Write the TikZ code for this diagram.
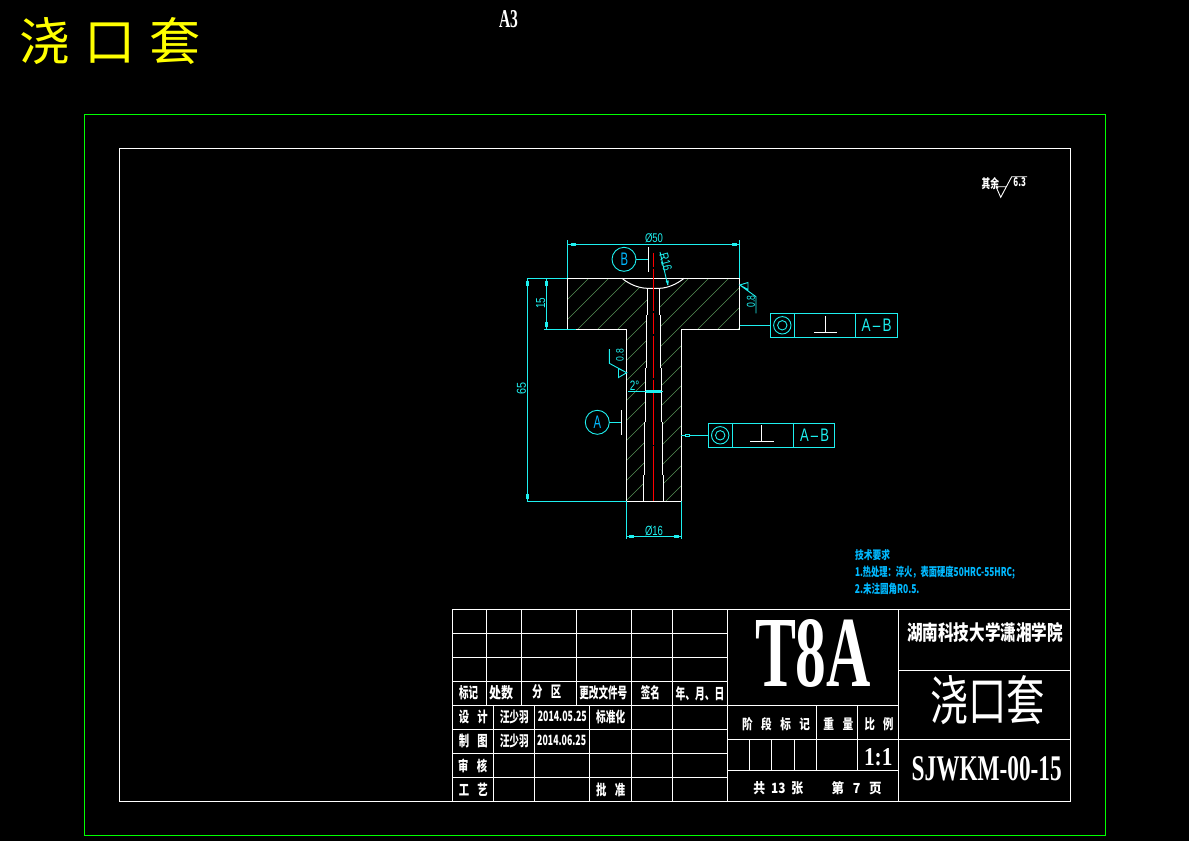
\documentclass[tikz,border=0pt]{standalone}
\usepackage{fontspec}
\setmainfont{Liberation Serif}
\setsansfont{Liberation Sans}
\newfontfamily\cjk{Noto Sans CJK SC}
\definecolor{cadcyan}{RGB}{30,240,240}
\definecolor{cadblue}{RGB}{0,185,255}
\definecolor{cadgreen}{RGB}{85,145,85}
\definecolor{cadred}{RGB}{255,0,0}
\definecolor{cadframe}{RGB}{0,255,0}
\definecolor{cadyellow}{RGB}{255,255,0}
% name, x, y, width, height, rotation, colour, content
\newcommand\tx[8]{\node[inner sep=0pt,outer sep=0pt,rotate=#6,text=#7] (#1) at (#2,#3) {\resizebox{#4pt}{#5pt}{#8}};}
\newcommand\cb[6]{\tx{#1}{#2}{#3}{#4}{#5}{0}{white}{\cjk\bfseries #6}}
\newcommand\dt[7]{\tx{#1}{#2}{#3}{#4}{#5}{#6}{cadcyan}{\sffamily #7}}
\newcommand\tk[2]{\fill[cadcyan] (#1-2.5,#2-1.5) rectangle (#1+2.5,#2+1.5);}
\newcommand\tkv[2]{\fill[cadcyan] (#1-1.5,#2-2.5) rectangle (#1+1.5,#2+2.5);}
\tikzset{
  outline/.style={draw=white,line width=1pt},
  dimline/.style={draw=cadcyan,line width=0.9pt},
  tblline/.style={draw=white,line width=0.9pt},
  hatchline/.style={draw=cadgreen,line width=0.6pt},
  centreline/.style={draw=cadred,line width=1pt},
}
\begin{document}
\begin{tikzpicture}[x=1pt,y=-1pt]
\useasboundingbox (0,0) rectangle (1189,841);
\fill[black] (0,0) rectangle (1189,841);
% frames
\draw[draw=cadframe,line width=1pt] (84.5,114.5) rectangle (1105.5,835.5);
\draw[draw=white,line width=0.9pt] (119.5,148.5) rectangle (1070.5,801.5);
% title text
\tx{title}{110}{41.5}{182}{43}{0}{cadyellow}{\cjk\fontsize{50}{50}\selectfont 浇\hspace{14pt}口\hspace{14pt}套}
\tx{sheet}{508.5}{19.5}{19}{17}{0}{white}{\bfseries A3}
% hatching, left half
\begin{scope}
\clip (567.3,278.3) -- (622,278.3) .. controls (629,284) and (638,288) .. (647,288.3) -- (647,315) -- (646,315) -- (646,368) -- (645.3,368) -- (645.3,422) -- (644.3,422) -- (644.3,475) -- (643.3,475) -- (643.3,501.3) -- (626.3,501.3) -- (626.3,329.3) -- (567.3,329.3) -- cycle;
\foreach \k in {0,...,18} {\draw[hatchline] ({827+20*\k-250},250) -- ({827+20*\k-600},600);}
\end{scope}
% hatching, right half
\begin{scope}
\clip (739.7,278.3) -- (684,278.3) .. controls (677,284) and (668,288) .. (659.7,288.3) -- (659.7,315) -- (660.7,315) -- (660.7,368) -- (661.7,368) -- (661.7,422) -- (662.7,422) -- (662.7,475) -- (663.7,475) -- (663.7,501.3) -- (681.3,501.3) -- (681.3,329.3) -- (739.7,329.3) -- cycle;
\foreach \k in {0,...,18} {\draw[hatchline] ({827+20*\k-250},250) -- ({827+20*\k-600},600);}
\end{scope}
% part outline
\draw[outline] (567.3,278.3) -- (739.7,278.3) -- (739.7,329.3) -- (681.3,329.3) -- (681.3,501.3) -- (626.3,501.3) -- (626.3,329.3) -- (567.3,329.3) -- cycle;
\draw[outline] (622,278.3) .. controls (629,284) and (638,288) .. (647,288.3) -- (659.7,288.3) .. controls (668,288) and (677,284) .. (684,278.3);
\draw[outline] (647,288.3) -- (647,315) (646,315) -- (646,368) (645.3,368) -- (645.3,422) (644.3,422) -- (644.3,475) (643.3,475) -- (643.3,501.3);
\draw[outline] (659.7,288.3) -- (659.7,315) (660.7,315) -- (660.7,368) (661.7,368) -- (661.7,422) (662.7,422) -- (662.7,475) (663.7,475) -- (663.7,501.3);
% centre line
\draw[centreline] (653.3,253) -- (653.3,267) (653.3,268.5) -- (653.3,311) (653.3,312.5) -- (653.3,334) (653.3,335.5) -- (653.3,378) (653.3,379.5) -- (653.3,444.5) (653.3,446) -- (653.3,501);
% dim phi50
\draw[dimline] (567.3,240) -- (567.3,278.3) (739.7,240) -- (739.7,278.3) (567.3,244.3) -- (739.7,244.3);
\tk{573}{244.3}\tk{734}{244.3}
\dt{dfifty}{654}{238.5}{18}{9}{0}{Ø50}
% dim 15
\draw[dimline] (526.7,278.3) -- (567.3,278.3) (544.3,329.3) -- (576,329.3) (546.3,278.3) -- (546.3,329.3);
\tkv{546.3}{283.7}\tkv{546.3}{324.3}
\dt{dfifteen}{540.7}{303}{11}{9}{90}{15}
% dim 65
\draw[dimline] (527,278.3) -- (527,501.3) (526.7,501.3) -- (626.3,501.3);
\tkv{527}{283.7}\tkv{527}{496}
\dt{dsixtyfive}{521.5}{388}{12}{9}{90}{65}
% dim phi16
\draw[dimline] (626.3,501.3) -- (626.3,538.5) (681.3,501.3) -- (681.3,538.5) (626.3,536.3) -- (681.3,536.3);
\tk{631.7}{536.3}\tk{676}{536.3}
\dt{dsixteen}{654}{530.5}{18}{9.5}{0}{Ø16}
% dim 2 deg
\draw[dimline] (628.3,391.7) -- (663,391.7);
\fill[cadcyan] (645.5,390) rectangle (660.5,393.4);
\dt{dangle}{634.5}{385.7}{9.5}{9.5}{0}{2°}
% R16
\draw[dimline] (660,252) -- (667.7,285);
\fill[cadcyan] (665.6,281) -- (668.6,280.3) -- (668.4,285.3) -- cycle;
\dt{dradius}{665.7}{261.7}{18}{9}{-75}{R16}
% datum B
\draw[draw=cadcyan,line width=0.9pt] (624,259.3) circle (12);
\draw[dimline] (636,259.3) -- (648.3,259.3);
\draw[outline] (648.3,247.3) -- (648.3,271.7);
\tx{datb}{624.3}{259.5}{7.5}{12.5}{0}{cadblue}{\sffamily B}
% datum A
\draw[draw=cadcyan,line width=0.9pt] (597.3,422.3) circle (12);
\draw[dimline] (609.3,422.3) -- (621.7,422.3);
\draw[outline] (621.7,410) -- (621.7,435);
\tx{data}{597.3}{422}{7.5}{12.5}{0}{cadblue}{\sffamily A}
% feature frame lower
\draw[dimline] (681.3,435.3) -- (708.3,435.3);
\draw[draw=cadcyan,line width=0.9pt,fill=black] (685.3,434) rectangle (689.3,436.7);
\draw[draw=cadcyan,line width=1pt] (708.3,423.3) rectangle (834.3,447.3) (732.3,423.3) -- (732.3,447.3) (793.3,423.3) -- (793.3,447.3);
\draw[draw=cadcyan,line width=0.9pt] (720.2,435.3) circle (8.7) (720.2,435.3) circle (4.7);
\draw[outline] (750,441.3) -- (774,441.3) (761.7,425) -- (761.7,441.3);
\dt{reflower}{814.5}{435.5}{29}{12.5}{0}{A\,–\,B}
% feature frame upper
\draw[dimline] (739.7,325.3) -- (770.3,325.3);
\draw[draw=cadcyan,line width=1pt] (770.3,313.3) rectangle (897.3,337.3) (794.3,313.3) -- (794.3,337.3) (855.3,313.3) -- (855.3,337.3);
\draw[draw=cadcyan,line width=0.9pt] (782.3,325.3) circle (8.7) (782.3,325.3) circle (4.7);
\draw[outline] (814,332.3) -- (837,332.3) (825.7,316) -- (825.7,332.3);
\dt{refupper}{876.7}{325.3}{30}{12.5}{0}{A\,–\,B}
% roughness marks
\draw[dimline] (748,282.5) -- (739.7,285) -- (748,289.5) -- cycle (739.7,285) -- (756,296.7) -- (756,313.3);
\dt{roughright}{751}{301.5}{12}{8}{90}{0.8}
\draw[dimline] (618.5,368.5) -- (626.7,372.7) -- (618.5,377.5) -- cycle (626.7,372.7) -- (609.3,363.3) -- (609.3,349);
\dt{roughleft}{620}{355}{12}{7.5}{90}{0.8}
% other surfaces roughness
\draw[draw=white,line width=0.9pt] (996,186.7) -- (1005.5,186.7) (996,186.7) -- (1000.7,197.3) -- (1011.7,176.7) -- (1027,176.7);
\cb{roughall}{990.3}{183.8}{17.5}{11}{其余}
\cb{roughval}{1019.7}{181.8}{12.5}{9}{6.3}
% technical notes
\tx{notea}{872.5}{555}{35}{10}{0}{cadblue}{\cjk\bfseries 技术要求}
\tx{noteb}{935}{572.3}{160}{10.5}{0}{cadblue}{\cjk\bfseries 1.热处理：淬火，表面硬度50HRC-55HRC;}
\tx{notec}{887.2}{589.3}{64.5}{10.5}{0}{cadblue}{\cjk\bfseries 2.未注圆角R0.5.}
% title block lines
\draw[tblline] (452.5,609.3) rectangle (1070.5,801.5);
\draw[tblline] (452.5,633.3) -- (727.3,633.3) (452.5,657.3) -- (727.3,657.3) (452.5,681.3) -- (727.3,681.3) (452.5,705.3) -- (898.3,705.3) (452.5,729.3) -- (727.3,729.3) (452.5,753.3) -- (727.3,753.3) (452.5,777.3) -- (727.3,777.3);
\draw[tblline] (486.7,609.3) -- (486.7,705.3) (521.3,609.3) -- (521.3,705.3) (576.3,609.3) -- (576.3,705.3);
\draw[tblline] (631.7,609.3) -- (631.7,801.5) (672.7,609.3) -- (672.7,801.5) (727.3,609.3) -- (727.3,801.5) (898.3,609.3) -- (898.3,801.5);
\draw[tblline] (493.7,705.3) -- (493.7,801.5) (534.3,705.3) -- (534.3,801.5) (589.7,705.3) -- (589.7,801.5);
\draw[tblline] (727.3,739.3) -- (898.3,739.3) (727.3,770) -- (898.3,770) (898.3,670.3) -- (1070.5,670.3) (898.3,739.3) -- (1070.5,739.3);
\draw[tblline] (816.3,705.3) -- (816.3,770) (857.3,705.3) -- (857.3,770) (749.3,739.3) -- (749.3,770) (771.7,739.3) -- (771.7,770) (794.3,739.3) -- (794.3,770);
% title block text
\cb{c1}{468.7}{692.3}{19}{13}{标记}
\cb{c2}{501}{692.3}{24}{13}{处数}
\cb{c3}{546.7}{691.7}{29}{13}{分\hspace{0.8em}区}
\cb{c4}{603.3}{692.3}{48}{13}{更改文件号}
\cb{c5}{650.3}{693}{19}{13}{签名}
\cb{c6}{700}{693.3}{49}{13}{年、月、日}
\cb{d1}{473.3}{716.7}{29}{12.5}{设\hspace{0.8em}计}
\cb{d2}{514.3}{717.3}{29}{12.5}{汪少羽}
\cb{d3}{562.3}{716}{49}{10.5}{2014.05.25}
\cb{d4}{610.7}{717.3}{29}{12.5}{标准化}
\cb{e1}{473.3}{741}{29}{12.5}{制\hspace{0.8em}图}
\cb{e2}{514.3}{741}{29}{12.5}{汪少羽}
\cb{e3}{561.7}{740}{49}{10.5}{2014.06.25}
\cb{f1}{472.7}{766}{29}{12.5}{审\hspace{0.8em}核}
\cb{g1}{473.3}{790}{29}{12.5}{工\hspace{0.8em}艺}
\cb{g2}{610.7}{790}{29}{12.5}{批\hspace{0.8em}准}
\cb{h1}{776}{724}{68}{12}{阶\hspace{0.8em}段\hspace{0.8em}标\hspace{0.8em}记}
\cb{h2}{838.3}{724}{30}{12}{重\hspace{0.8em}量}
\cb{h3}{879}{724}{29}{12}{比\hspace{0.8em}例}
\cb{j1}{778.3}{787.7}{50}{12}{共\hspace{0.5em}13\hspace{0.5em}张}
\cb{j2}{856.7}{787.7}{50}{12}{第\hspace{0.7em}7\hspace{0.7em}页}
\tx{scale}{878.3}{756.7}{28.5}{17}{0}{white}{\bfseries 1:1}
\tx{material}{813}{653.3}{116}{67}{0}{white}{\bfseries T8A}
\cb{school}{985}{632.7}{156}{18}{湖南科技大学潇湘学院}
\tx{partname}{987.7}{700.5}{115}{45}{0}{white}{\cjk 浇口套}
\tx{drawno}{986.7}{768.3}{150}{24}{0}{white}{\bfseries SJWKM-00-15}
\end{tikzpicture}
\end{document}
